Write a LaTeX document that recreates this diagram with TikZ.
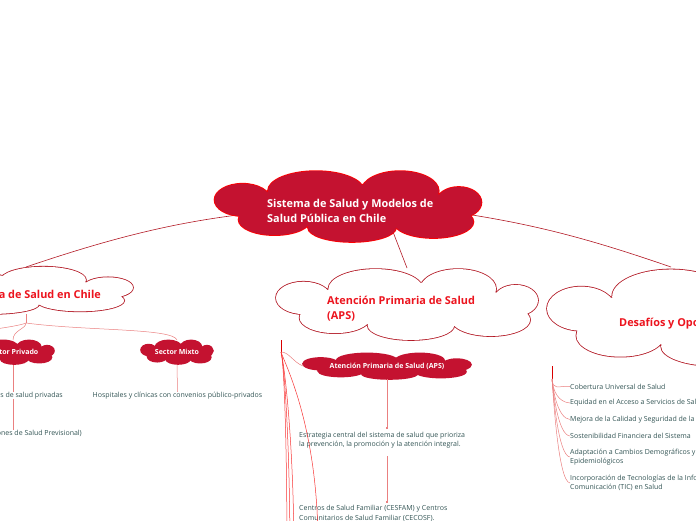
\documentclass[tikz,border=0pt]{standalone}
\usepackage{fontspec}
\setmainfont{Open Sans}
\usetikzlibrary{arrows.meta}
\pgfdeclarelayer{background}
\pgfdeclarelayer{clouds}
\pgfsetlayers{background,clouds,main}
\definecolor{crimson}{RGB}{196,18,48}
\definecolor{redline}{RGB}{178,24,36}
\definecolor{redtext}{RGB}{236,20,30}
\definecolor{pinkline}{RGB}{234,128,128}
\definecolor{slate}{RGB}{50,84,84}
\tikzstyle{box}=[inner sep=0pt, outer sep=0pt]
\tikzstyle{leaf}=[box, text=white, font=\fontsize{7}{8}\selectfont\bfseries]
\tikzstyle{title}=[text=white, font=\fontsize{10.9}{15}\selectfont\bfseries,
    align=left, anchor=west, inner sep=0pt]
\tikzstyle{subtitle}=[title, text=redtext]
\tikzstyle{note}=[text=slate, font=\fontsize{7}{9.5}\selectfont, align=left,
    anchor=west, inner sep=0pt]
\tikzstyle{branch}=[draw=redline, line width=0.6pt]
\tikzstyle{twig}=[draw=pinkline, line width=0.5pt]

% lobes of a cloud, in units of its half width and half height
\newcommand{\lobes}{
    (-0.24,-0.42) ellipse [x radius=0.36, y radius=0.55]
    (0.39,-0.42) ellipse [x radius=0.29, y radius=0.55]
    (-0.79,-0.17) ellipse [x radius=0.21, y radius=0.45]
    (0.83,-0.1) ellipse [x radius=0.17, y radius=0.43]
    (-0.55,0.38) ellipse [x radius=0.27, y radius=0.43]
    (0.03,0.6) ellipse [x radius=0.33, y radius=0.4]
    (0.64,0.44) ellipse [x radius=0.3, y radius=0.45]
    (0,0) ellipse [x radius=0.8, y radius=0.6]}
% #1 node, #2 half width, #3 half height, #4 edge, #5 fill
\newcommand{\cloudat}[5]{%
    \begin{scope}[shift={(#1.center)}, x=#2pt, y=-#3pt]
        \path[draw=#4, line width=1.6pt] \lobes;
        \path[fill=#5] \lobes;
    \end{scope}}

\begin{document}
\begin{tikzpicture}[x=1pt,y=-1pt]
    \useasboundingbox (0,0) rectangle (696,520);
    \clip (0,0) rectangle (696,520);

    \node (sys)[box, minimum width=267pt, minimum height=72pt] at (348,206) {};
    \path (sys.center)+(-81,4.5) node (systxt)[title] {Sistema de Salud y Modelos de\\Salud Pública en Chile};

    \node (est)[box, minimum width=294pt, minimum height=48pt] at (-14,290) {};
    \path (est.center)+(115,4) node (esttxt)[subtitle, anchor=east] {Estructura del Sistema de Salud en Chile};

    \node (aps)[box, minimum width=262pt, minimum height=72pt] at (407,304) {};
    \path (aps.center)+(-80,4.5) node (apstxt)[subtitle] {Atención Primaria de Salud\\(APS)};

    \node (des)[box, minimum width=326pt, minimum height=98pt] at (710,317) {};
    \path (des.center)+(-91,7) node (destxt)[subtitle] {Desafíos y Oportunidades};

    % sectores
    \node (priv)[leaf, minimum width=82pt, minimum height=24pt] at (13,352) {Sector Privado};
    \node (mix)[leaf, minimum width=72pt, minimum height=24pt] at (177,352) {Sector Mixto};
    \path (priv.south)+(50,31.5) node (priv1)[note, anchor=east] {Clínicas de salud privadas};
    \path (priv.south)+(69,69) node (priv2)[note, anchor=east] {ISAPRES (Instituciones de Salud Previsional)};
    \path (mix.south)+(0.5,31.5) node (mix1)[note, anchor=center] {Hospitales y clínicas con convenios público-privados};

    % APS
    \node (apsl)[leaf, minimum width=168pt, minimum height=26pt] at (387,366) {Atención Primaria de Salud (APS)};
    \path (apsl.south)+(-88,61) node (apsn1)[note] {Estrategia central del sistema de salud que prioriza\\la prevención, la promoción y la atención integral.};
    \path (apsn1.south west)+(0,65) node (apsn2)[note] {Centros de Salud Familiar (CESFAM) y Centros\\Comunitarios de Salud Familiar (CECOSF).};

    % desafios
    \path (des.center)+(-140,69.5) node (d1)[note] {Cobertura Universal de Salud};
    \path (d1.west)+(0,16.5) node (d2)[note] {Equidad en el Acceso a Servicios de Salud};
    \path (d2.west)+(0,16.5) node (d3)[note] {Mejora de la Calidad y Seguridad de la Atención};
    \path (d3.west)+(0,16.5) node (d4)[note] {Sostenibilidad Financiera del Sistema};
    \path (d4.west)+(0,21) node (d5)[note] {Adaptación a Cambios Demográficos y\\Epidemiológicos};
    \path (d5.west)+(0,26) node (d6)[note] {Incorporación de Tecnologías de la Información y\\Comunicación (TIC) en Salud};

    \begin{pgfonlayer}{clouds}
        \cloudat{sys}{133.5}{36}{red}{crimson}
        \cloudat{est}{147}{24}{redline}{white}
        \cloudat{aps}{131}{36}{redline}{white}
        \cloudat{des}{163}{49}{redline}{white}
        \cloudat{priv}{41}{12}{crimson}{crimson}
        \cloudat{mix}{36}{12}{crimson}{crimson}
        \cloudat{apsl}{84}{13}{crimson}{crimson}
    \end{pgfonlayer}

    %%% arrows
    \begin{pgfonlayer}{background}
        \path (est.north)+(40,1) coordinate (estin);
        \path (des.north)+(-39,-1) coordinate (desin);
        \path (sys.center)+(35,0) coordinate (sysa);
        \path (sys.center)+(60,0) coordinate (sysb);
        \path [branch] (sys.center) to[bend right=8] (estin);
        \path [branch] (sysa) -- (aps.north);
        \path [branch] (sysb) to[bend left=6] (desin);

        \path (est.south)+(40,0) coordinate (etop);
        \path (etop)+(0,9) coordinate (efork);
        \coordinate (spub) at (-90,336);
        \path [twig] (etop) -- (efork);
        \path [twig] (efork) .. controls +(0,6) and +(0,-10) .. (priv.north);
        \path [twig] (efork) .. controls +(60,8) and +(-4,-12) .. (mix.north);
        \path [twig] (efork) .. controls +(-8,4) and +(40,0) .. (spub);
        \path [twig] (priv.south) -- (priv.south |- priv1.north);
        \path [twig] (priv.south |- priv1.south) -- (priv.south |- priv2.north);
        \path [twig] (mix.south) -- (mix1.north);
    \end{pgfonlayer}

    \path (aps.center)+(-126,36) coordinate (atop);
    \path (atop)+(0,12) coordinate (afork);
    \coordinate (aout1) at (287,560);
    \coordinate (aout2) at (290,560);
    \coordinate (aout3) at (294,560);
    \coordinate (aout4) at (318,545);
    \path [branch, draw=red!85!black] (atop) -- (afork);
    \path [twig] (afork) .. controls +(8,0) and +(-10,-4) .. (apsl.west);
    \foreach \o in {aout1,aout2,aout3,aout4}
        \path [twig, draw=red!60!pinkline] (afork) .. controls +(3,10) and +(0,-120) .. (\o);
    \path [twig, -{Rectangle[length=1.5pt,width=1.8pt]}, shorten >=3pt] (apsl.south) -- (apsl.south |- apsn1.north);
    \path [twig, -{Rectangle[length=1.5pt,width=1.8pt]}, shorten >=3pt] (apsl.south |- apsn1.south) ++(0,8) -- (apsl.south |- apsn2.north);

    \path (des.center)+(-158,49) coordinate (dtop);
    \path (dtop)+(0,13) coordinate (dfork);
    \path [branch, draw=red!85!black] (dtop) -- (dfork);
    \foreach \i in {d1,d2,d3,d4,d5,d6}
        \path [twig] (dfork) .. controls +(1,12) and +(-12,-1) .. (\i.west);

\end{tikzpicture}
\end{document}
